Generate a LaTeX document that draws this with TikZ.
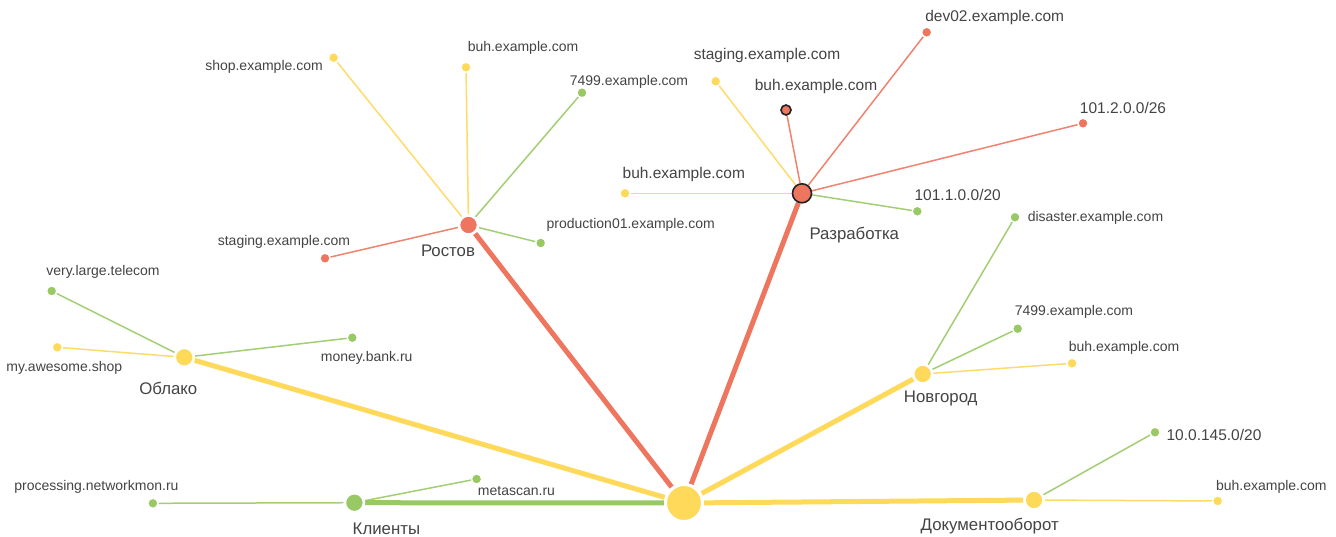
\documentclass[tikz,border=0pt]{standalone}
\usepackage{fontspec}
\setmainfont{Liberation Sans}
\definecolor{cy}{RGB}{255,217,90}
\definecolor{cg}{RGB}{153,201,101}
\definecolor{cr}{RGB}{238,118,95}
\definecolor{ct}{RGB}{68,68,68}
\definecolor{cb}{RGB}{34,34,34}
\pgfdeclarelayer{bg}
\pgfdeclarelayer{edgelayer}
\pgfsetlayers{bg,edgelayer,main}
\tikzset{
  leaf/.style={circle, minimum size=10pt, inner sep=0pt, draw=white, line width=1.2pt, fill=#1},
  grp/.style={circle, minimum size=19pt, inner sep=0pt, draw=white, line width=2.5pt, fill=#1},
  hubnode/.style={circle, minimum size=37pt, inner sep=0pt, draw=white, line width=3pt, fill=#1},
  outlined/.style={draw=cb, line width=1.6pt},
  smalltxt/.style={font=\fontsize{14}{16}\selectfont, text=ct, anchor=base, inner sep=0pt},
  bigtxt/.style={font=\fontsize{15.5}{18}\selectfont, text=ct, anchor=base, inner sep=0pt},
  grptxt/.style={font=\fontsize{16.8}{20}\selectfont, text=ct, anchor=base, inner sep=0pt},
  leafedge/.style={draw=#1, line width=1.5pt, opacity=0.9},
  hubedge/.style={draw=#1, line width=5pt},
}
\begin{document}
\begin{tikzpicture}[x=1pt,y=-1pt]
\begin{pgfonlayer}{bg}
\fill[white] (0,0) rectangle (1336,536);
\end{pgfonlayer}
\useasboundingbox (0,0) rectangle (1336,536);

% hub and groups
\node[hubnode=cy] (H) at (684,503) {};
\node[grp=cr] (R) at (468.5,225) {};
\node[grp=cr, outlined] (D) at (802,193.3) {};
\node[grp=cy] (O) at (184.3,357.3) {};
\node[grp=cy] (N) at (922.7,374) {};
\node[grp=cg] (K) at (354.4,502.7) {};
\node[grp=cy] (C) at (1034,500) {};

\node[grptxt] (lR) at (448,256) {Ростов};
\node[grptxt] (lD) at (854.3,239.3) {Разработка};
\node[grptxt] (lO) at (168.3,394.3) {Облако};
\node[grptxt] (lN) at (940.7,402.7) {Новгород};
\node[grptxt] (lK) at (386.4,534) {Клиенты};
\node[grptxt] (lC) at (989.7,530) {Документооборот};

% Ростов leaves
\node[leaf=cy] (r1) at (333.6,57.7) {};
\node[leaf=cy] (r2) at (466,67.3) {};
\node[leaf=cg] (r3) at (582,92.7) {};
\node[leaf=cg] (r4) at (540.7,243) {};
\node[leaf=cr] (r5) at (325,258.3) {};
\node[smalltxt] (lr1) at (264,70) {shop.example.com};
\node[smalltxt] (lr2) at (523,51) {buh.example.com};
\node[smalltxt] (lr3) at (629,85) {7499.example.com};
\node[smalltxt] (lr4) at (630.7,228.3) {production01.example.com};
\node[smalltxt] (lr5) at (284,245) {staging.example.com};

% Разработка leaves
\node[leaf=cy] (d1) at (715.7,81.3) {};
\node[leaf=cr, outlined] (d2) at (786,110) {};
\node[leaf=cr] (d3) at (926.7,32.3) {};
\node[leaf=cr] (d4) at (1083,123.3) {};
\node[leaf=cy] (d5) at (625,193.3) {};
\node[leaf=cg] (d6) at (917.3,211.3) {};
\node[bigtxt] (ld1) at (767,59.8) {staging.example.com};
\node[bigtxt] (ld2) at (816,90.8) {buh.example.com};
\node[bigtxt] (ld3) at (994.7,21.2) {dev02.example.com};
\node[bigtxt] (ld4) at (1123,113.5) {101.2.0.0/26};
\node[bigtxt] (ld5) at (683.8,178.8) {buh.example.com};
\node[bigtxt] (ld6) at (957.7,200.5) {101.1.0.0/20};

% Облако leaves
\node[leaf=cg] (o1) at (51.7,291) {};
\node[leaf=cy] (o2) at (57.3,347.3) {};
\node[leaf=cg] (o3) at (352.3,337.7) {};
\node[smalltxt] (lo1) at (103,275) {very.large.telecom};
\node[smalltxt] (lo2) at (64.3,371) {my.awesome.shop};
\node[smalltxt] (lo3) at (366.7,361.7) {money.bank.ru};

% Клиенты leaves
\node[leaf=cg] (k1) at (152.9,503.3) {};
\node[leaf=cg] (k2) at (476.6,479) {};
\node[smalltxt] (lk1) at (96.4,490) {processing.networkmon.ru};
\node[smalltxt] (lk2) at (516.5,495) {metascan.ru};

% Новгород leaves
\node[leaf=cg] (n1) at (1015,217.3) {};
\node[leaf=cg] (n2) at (1017.7,328.7) {};
\node[leaf=cy] (n3) at (1072,363.3) {};
\node[smalltxt] (ln1) at (1095.5,221) {disaster.example.com};
\node[smalltxt] (ln2) at (1074,315) {7499.example.com};
\node[smalltxt] (ln3) at (1124,351) {buh.example.com};

% Документооборот leaves
\node[leaf=cg] (c1) at (1155,432.3) {};
\node[leaf=cy] (c2) at (1217.7,501) {};
\node[bigtxt] (lc1) at (1214,440.2) {10.0.145.0/20};
\node[smalltxt] (lc2) at (1271.3,490) {buh.example.com};

\begin{pgfonlayer}{edgelayer}
\draw[hubedge=cr] (H) -- (R);
\draw[hubedge=cr] (H) -- (D);
\draw[hubedge=cy] (H) -- (O);
\draw[hubedge=cy] (H) -- (N);
\draw[hubedge=cg] (H) -- (K);
\draw[hubedge=cy] (H) -- (C);

\draw[leafedge=cy] (R) -- (r1);
\draw[leafedge=cy] (R) -- (r2);
\draw[leafedge=cg] (R) -- (r3);
\draw[leafedge=cg] (R) -- (r4);
\draw[leafedge=cr] (R) -- (r5);

\draw[leafedge=cy] (D) -- (d1);
\draw[leafedge=cr] (D) -- (d2);
\draw[leafedge=cr] (D) -- (d3);
\draw[leafedge=cr] (D) -- (d4);
\draw[leafedge=cy] (D) -- (d5);
\draw[leafedge=cg] (D) -- (d6);

\draw[leafedge=cg] (O) -- (o1);
\draw[leafedge=cy] (O) -- (o2);
\draw[leafedge=cg] (O) -- (o3);

\draw[leafedge=cg] (K) -- (k1);
\draw[leafedge=cg] (K) -- (k2);

\draw[leafedge=cg] (N) -- (n1);
\draw[leafedge=cg] (N) -- (n2);
\draw[leafedge=cy] (N) -- (n3);

\draw[leafedge=cg] (C) -- (c1);
\draw[leafedge=cy] (C) -- (c2);
\end{pgfonlayer}
\end{tikzpicture}
\end{document}
